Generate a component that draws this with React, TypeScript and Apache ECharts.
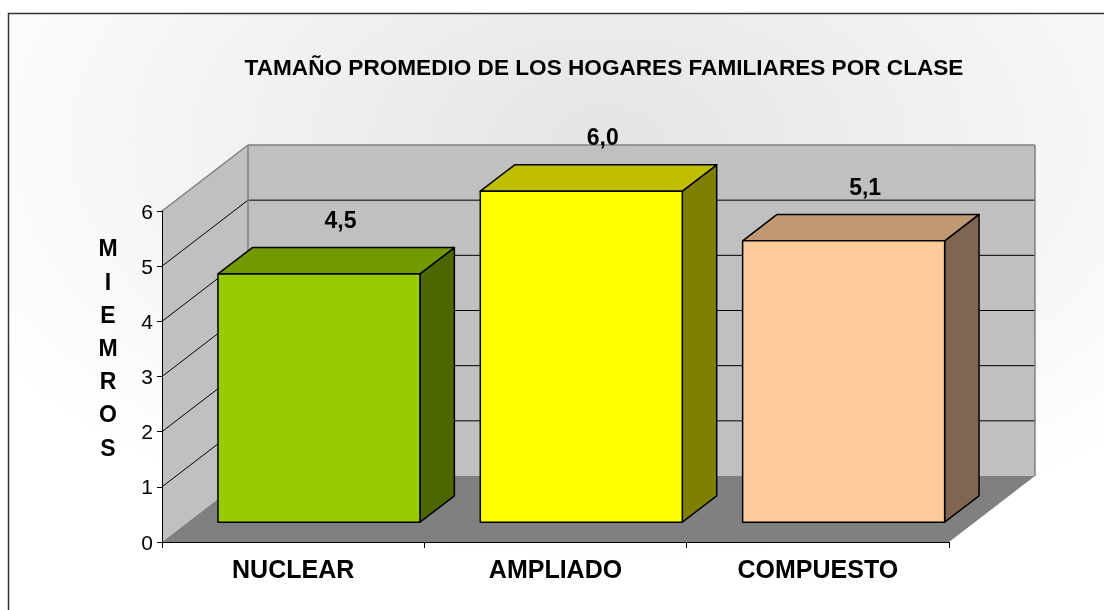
import React, { useEffect, useRef } from "react";
import * as echarts from "echarts";

const categories = ["NUCLEAR", "AMPLIADO", "COMPUESTO"];
const values = [4.5, 6.0, 5.1];
const yTicks = [0, 1, 2, 3, 4, 5, 6];
const titleText = "TAMAÑO PROMEDIO DE LOS HOGARES FAMILIARES POR CLASE";
const yAxisLetters = ["M", "I", "E", "M", "R", "O", "S"];

const frontColors = ["#99CC00", "#FFFF00", "#FFCC99"];
const topColors = ["#739900", "#BFBF00", "#C09973"];
const sideColors = ["#4C6600", "#808000", "#806650"];

const FONT = "'Liberation Sans', Arial, sans-serif";
const DX = 86;
const DY = -66;

export default function App() {
  const ref = useRef<HTMLDivElement>(null);
  useEffect(() => {
    if (!ref.current) return;
    const chart = echarts.init(ref.current, null, { renderer: "svg" });
    const yMax = yTicks[yTicks.length - 1];

    const wallsRender = (_params: any, api: any) => {
      const band = api.size([1, 0])[0];
      const xl = api.coord([0, 0])[0] - band / 2;
      const xr = api.coord([categories.length - 1, 0])[0] + band / 2;
      const y0 = api.coord([0, 0])[1];
      const yT = api.coord([0, yMax])[1];
      const children: any[] = [];
      children.push({
        type: "polygon",
        shape: { points: [[xl, y0], [xl, yT], [xl + DX, yT + DY], [xl + DX, y0 + DY]] },
        style: { fill: "#C0C0C0" },
      });
      children.push({
        type: "rect",
        shape: { x: xl + DX, y: yT + DY, width: xr - xl, height: y0 - yT },
        style: { fill: "#C0C0C0" },
      });
      children.push({
        type: "polygon",
        shape: { points: [[xl, y0], [xr, y0], [xr + DX, y0 + DY], [xl + DX, y0 + DY]] },
        style: { fill: "#808080" },
      });
      yTicks.forEach((v) => {
        if (v === 0 || v === yMax) return;
        const yv = api.coord([0, v])[1];
        children.push({
          type: "line",
          shape: { x1: xl, y1: yv, x2: xl + DX, y2: yv + DY },
          style: { stroke: "#000", lineWidth: 1 },
        });
        children.push({
          type: "line",
          shape: { x1: xl + DX, y1: yv + DY, x2: xr + DX, y2: yv + DY },
          style: { stroke: "#000", lineWidth: 1 },
        });
      });
      const edge = { stroke: "#808080", lineWidth: 1.5 };
      children.push({ type: "line", shape: { x1: xl, y1: yT, x2: xl + DX, y2: yT + DY }, style: edge });
      children.push({ type: "line", shape: { x1: xl + DX, y1: yT + DY, x2: xr + DX, y2: yT + DY }, style: edge });
      children.push({ type: "line", shape: { x1: xl + DX, y1: yT + DY, x2: xl + DX, y2: y0 + DY }, style: edge });
      children.push({ type: "line", shape: { x1: xr + DX, y1: yT + DY, x2: xr + DX, y2: y0 + DY }, style: edge });
      return { type: "group", children };
    };

    const barsRender = (params: any, api: any) => {
      const i = api.value(0);
      const v = api.value(1);
      const idx = params.dataIndex;
      const [xc, y0] = api.coord([i, 0]);
      const yv = api.coord([i, v])[1];
      const bw = api.size([1, 0])[0] * 0.77;
      const fx = xc - bw / 2 + DX * 0.3;
      const fy0 = y0 + DY * 0.3;
      const fyv = yv + DY * 0.3;
      const dx = DX * 0.4;
      const dy = DY * 0.4;
      const stroke = { stroke: "#000", lineWidth: 1.5, lineJoin: "round" };
      return {
        type: "group",
        children: [
          {
            type: "polygon",
            shape: { points: [[fx + bw, fyv], [fx + bw + dx, fyv + dy], [fx + bw + dx, fy0 + dy], [fx + bw, fy0]] },
            style: { fill: sideColors[idx], ...stroke },
          },
          {
            type: "polygon",
            shape: { points: [[fx, fyv], [fx + bw, fyv], [fx + bw + dx, fyv + dy], [fx + dx, fyv + dy]] },
            style: { fill: topColors[idx], ...stroke },
          },
          {
            type: "rect",
            shape: { x: fx, y: fyv, width: bw, height: fy0 - fyv },
            style: { fill: frontColors[idx], ...stroke },
          },
          {
            type: "text",
            x: xc + DX * 0.55,
            y: yv + DY - 8,
            style: {
              text: v.toFixed(1).replace(".", ","),
              fill: "#000",
              font: `bold 23px ${FONT}`,
              align: "center",
              verticalAlign: "middle",
            },
          },
        ],
      };
    };

    chart.setOption({
      animation: false,
      grid: { left: 162, right: 155, top: 211, bottom: 68 },
      graphic: [
        {
          type: "rect",
          z: -100,
          shape: { x: 8.5, y: 13.5, width: 1200, height: 700 },
          style: {
            fill: new echarts.graphic.RadialGradient(0.5, 0.18, 0.6, [
              { offset: 0, color: "#E4E4E4" },
              { offset: 1, color: "#FFFFFF" },
            ]),
            stroke: "#333",
            lineWidth: 1.5,
          },
        },
        {
          type: "text",
          z: 100,
          x: 604,
          y: 67,
          style: {
            text: titleText,
            font: `bold 22.6px ${FONT}`,
            fill: "#000",
            align: "center",
            verticalAlign: "middle",
          },
        },
        {
          type: "text",
          z: 100,
          x: 108,
          y: 348,
          style: {
            text: yAxisLetters.join("\n"),
            font: `bold 23px ${FONT}`,
            lineHeight: 33.2,
            fill: "#000",
            align: "center",
            verticalAlign: "middle",
          },
        },
      ],
      xAxis: {
        type: "category",
        data: categories,
        boundaryGap: true,
        axisLine: { show: true, lineStyle: { color: "#000", width: 1 } },
        axisTick: { show: true, length: 6, lineStyle: { color: "#000" } },
        axisLabel: {
          color: "#000",
          fontFamily: FONT,
          fontWeight: "bold",
          fontSize: 25,
          lineHeight: 25,
          margin: 14,
        },
        splitLine: { show: false },
      },
      yAxis: {
        type: "value",
        min: 0,
        max: 6,
        interval: 1,
        axisLine: { show: true, lineStyle: { color: "#000", width: 1 } },
        axisTick: { show: true, length: 5, lineStyle: { color: "#000" } },
        axisLabel: { color: "#000", fontFamily: FONT, fontSize: 21, margin: 9 },
        splitLine: { show: false },
      },
      series: [
        {
          type: "custom",
          z: -1,
          clip: false,
          silent: true,
          renderItem: wallsRender,
          data: [[0, 0]],
        },
        {
          type: "custom",
          z: 5,
          clip: false,
          renderItem: barsRender,
          encode: { x: 0, y: 1 },
          data: values.map((v, i) => [i, v]),
        },
      ],
    });
    return () => chart.dispose();
  }, []);
  return (
    <div
      ref={ref}
      style={{ position: "fixed", left: 0, top: 0, width: 1104, height: 610 }}
    />
  );
}
